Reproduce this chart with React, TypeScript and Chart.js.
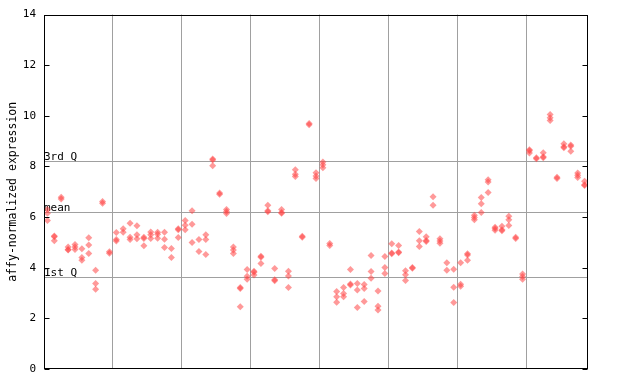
import React, { useEffect, useRef } from "react";
import { Chart, registerables } from "chart.js";

Chart.register(...registerables);

// Expression values per sample column (replicates)
const sampleColumns: number[][] = [
  [6.3, 6.15, 5.87],
  [5.25, 5.22, 5.07],
  [6.78, 6.72],
  [4.82, 4.72, 4.7],
  [4.92, 4.82, 4.72],
  [4.75, 4.4, 4.3],
  [5.18, 4.9, 4.56],
  [3.9, 3.38, 3.15],
  [6.62, 6.55],
  [4.63, 4.57],
  [5.39, 5.12, 5.06],
  [5.54, 5.4],
  [5.76, 5.2, 5.12],
  [5.66, 5.3, 5.15],
  [5.2, 5.16, 4.87],
  [5.41, 5.3, 5.16],
  [5.4, 5.32, 5.17],
  [5.4, 5.13, 4.8],
  [4.76, 4.4],
  [5.54, 5.5, 5.19],
  [5.87, 5.68, 5.5],
  [6.25, 5.72, 5.0],
  [5.12, 4.64],
  [5.3, 5.12, 4.52],
  [8.3, 8.26, 8.03],
  [6.95, 6.9],
  [6.3, 6.22, 6.14],
  [4.82, 4.7, 4.56],
  [3.22, 3.18, 2.46],
  [3.93, 3.66, 3.55],
  [3.86, 3.82, 3.71],
  [4.45, 4.41, 4.17],
  [6.47, 6.25, 6.21],
  [3.97, 3.53, 3.49],
  [6.3, 6.18, 6.15],
  [3.86, 3.67, 3.22],
  [7.87, 7.69, 7.6],
  [5.24, 5.2],
  [9.7, 9.65],
  [7.75, 7.62, 7.53],
  [8.18, 8.07, 7.95],
  [4.96, 4.88],
  [3.06, 2.85, 2.64],
  [3.22, 2.98, 2.85],
  [3.93, 3.36, 3.32],
  [3.38, 3.12, 2.43],
  [3.34, 3.18, 2.67],
  [4.48, 3.85, 3.58],
  [3.08, 2.48, 2.33],
  [4.44, 4.01, 3.77],
  [4.95, 4.58, 4.55],
  [4.88, 4.62, 4.59],
  [3.88, 3.72, 3.5],
  [4.01, 3.98],
  [5.43, 5.07, 4.84],
  [5.22, 5.08, 5.04],
  [6.8, 6.47],
  [5.15, 5.06, 4.97],
  [4.2, 3.9],
  [3.94, 3.23, 2.63],
  [4.2, 3.35, 3.27],
  [4.55, 4.5, 4.3],
  [6.07, 5.98, 5.9],
  [6.77, 6.53, 6.18],
  [7.48, 7.39, 6.97],
  [5.6, 5.55, 5.48],
  [5.64, 5.5, 5.46],
  [6.03, 5.9, 5.67],
  [5.2, 5.16],
  [3.75, 3.65, 3.55],
  [8.66, 8.62, 8.53],
  [8.35, 8.31],
  [8.54, 8.38, 8.35],
  [10.05, 9.93, 9.82],
  [7.57, 7.53],
  [8.9, 8.78, 8.74],
  [8.85, 8.8, 8.6],
  [7.74, 7.65, 7.56],
  [7.42, 7.28, 7.25],
];

// Group separators (between every 10 columns)
const groupBoundaries: number[] = [9.5, 19.5, 29.5, 39.5, 49.5, 59.5, 69.5];

// Summary lines
const summaryLabels: string[] = ["3rd Q", "mean", "1st Q"];
const summaryValues: number[] = [8.23, 6.21, 3.62];

const yTicks: number[] = [0, 2, 4, 6, 8, 10, 12, 14];

const MONO = "'DejaVu Sans Mono', monospace";

export default function App() {
  const ref = useRef<HTMLCanvasElement | null>(null);

  useEffect(() => {
    if (!ref.current) return;
    const points = sampleColumns.flatMap((vals, i) =>
      vals.map((v) => ({ x: i, y: v }))
    );

    const overlay = {
      id: "overlay",
      beforeDatasetsDraw(chart: any) {
        const { ctx, chartArea } = chart;
        const y = chart.scales.y;
        ctx.save();
        ctx.strokeStyle = "#a0a0a0";
        ctx.lineWidth = 1;
        ctx.font = `11px ${MONO}`;
        ctx.fillStyle = "#000";
        ctx.textAlign = "left";
        ctx.textBaseline = "alphabetic";
        summaryValues.forEach((v, i) => {
          const py = Math.round(y.getPixelForValue(v)) + 0.5;
          ctx.beginPath();
          ctx.moveTo(chartArea.left, py);
          ctx.lineTo(chartArea.right, py);
          ctx.stroke();
          ctx.fillText(summaryLabels[i], chartArea.left, py - 1.5);
        });
        ctx.restore();
      },
      afterDraw(chart: any) {
        const { ctx, chartArea } = chart;
        const y = chart.scales.y;
        ctx.save();
        ctx.strokeStyle = "#000";
        ctx.lineWidth = 1;
        const l = Math.round(chartArea.left) + 0.5;
        const r = Math.round(chartArea.right) - 0.5;
        const t = Math.round(chartArea.top) + 0.5;
        const b = Math.round(chartArea.bottom) - 0.5;
        ctx.strokeRect(l, t, r - l, b - t);
        yTicks.forEach((v) => {
          const py = Math.round(y.getPixelForValue(v)) + 0.5;
          ctx.beginPath();
          ctx.moveTo(l, py);
          ctx.lineTo(l + 5, py);
          ctx.moveTo(r, py);
          ctx.lineTo(r - 5, py);
          ctx.stroke();
        });
        ctx.restore();
      },
    };

    const chart = new Chart(ref.current, {
      type: "scatter",
      data: {
        datasets: [
          {
            data: points,
            pointStyle: "rectRot",
            pointRadius: 3.5,
            pointHoverRadius: 3.5,
            backgroundColor: "rgba(255,70,70,0.55)",
            borderWidth: 0,
          },
        ],
      },
      options: {
        animation: false,
        responsive: false,
        events: [],
        layout: { padding: { left: 0, right: 52, top: 14, bottom: 15 } },
        plugins: { legend: { display: false }, tooltip: { enabled: false } },
        scales: {
          x: {
            type: "linear",
            min: -0.5,
            max: sampleColumns.length - 0.5,
            afterBuildTicks: (s: any) => {
              s.ticks = groupBoundaries.map((v) => ({ value: v }));
            },
            afterFit: (s: any) => {
              s.height = 0;
            },
            ticks: { display: false },
            grid: { color: "#a0a0a0", lineWidth: 1, drawTicks: false },
            border: { display: false },
          },
          y: {
            min: 0,
            max: 14,
            afterBuildTicks: (s: any) => {
              s.ticks = yTicks.map((v) => ({ value: v }));
            },
            afterFit: (s: any) => {
              s.width = 44;
            },
            ticks: {
              color: "#000",
              font: { family: MONO, size: 11 },
              padding: 8,
            },
            grid: { display: false, drawTicks: false },
            border: { display: false },
            title: {
              display: true,
              text: "affy-normalized expression",
              color: "#000",
              font: { family: MONO, size: 11.5 },
              padding: { top: 6, bottom: 0 },
            },
          },
        },
      },
      plugins: [overlay],
    });
    return () => chart.destroy();
  }, []);

  return (
    <div style={{ position: "absolute", left: 0, top: 0, width: 640, height: 384, background: "#fff" }}>
      <canvas ref={ref} width={640} height={384} />
    </div>
  );
}
